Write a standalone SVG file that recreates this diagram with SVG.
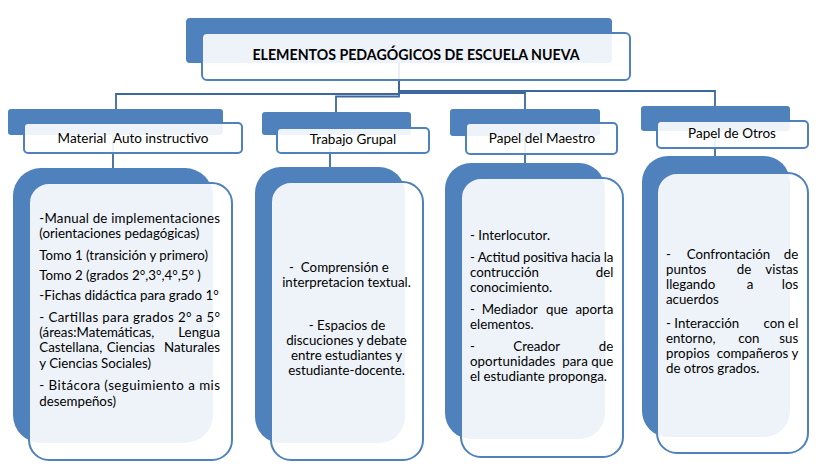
<svg xmlns="http://www.w3.org/2000/svg" width="824" height="471" viewBox="0 0 824 471">
<style>
.back{fill:#4F81BD}
.front{fill:#FFFFFF;fill-opacity:0.9;stroke:#4F81BD;stroke-width:2}
.conn{fill:none;stroke:#3C689E;stroke-width:1.8}
text{font-family:Lato,"Liberation Sans",sans-serif;fill:#000;white-space:pre}
.title{font-size:14.2px;font-weight:bold}
.hd{font-size:13.5px}
.t{font-size:13.3px}
.e{text-anchor:end}
.m{text-anchor:middle}
</style>
<rect width="824" height="471" fill="#FFFFFF"/>
<g id="connectors">
<path class="conn" d="M399,63 V94 H116 V109"/>
<path class="conn" d="M399,63 V96.5 H336 V112"/>
<path class="conn" d="M399,63 V93 H525 V109"/>
<path class="conn" d="M399,63 V91 H715 V106"/>
<path class="conn" d="M113,135 V168"/>
<path class="conn" d="M330,135 V167"/>
<path class="conn" d="M525,136 V163"/>
<path class="conn" d="M715,131 V156"/>
</g>
<g id="title">
<rect class="back" x="186" y="18" width="426" height="45" rx="4"/>
<rect class="front" x="202" y="33" width="428" height="47" rx="5"/>
<text class="title m" x="416" y="60">ELEMENTOS PEDAGÓGICOS DE ESCUELA NUEVA</text>
</g>
<g id="h1">
<rect class="back" x="8" y="109" width="215" height="26" rx="3"/>
<rect class="front" x="24" y="123" width="218" height="30" rx="4"/>
<text class="hd m" x="133" y="143">Material  Auto instructivo</text>
</g>
<g id="h2">
<rect class="back" x="262" y="112" width="149" height="23" rx="3"/>
<rect class="front" x="277" y="128" width="152" height="25" rx="4"/>
<text class="hd m" x="353" y="144">Trabajo Grupal</text>
</g>
<g id="h3">
<rect class="back" x="450" y="109" width="150" height="27" rx="3"/>
<rect class="front" x="466" y="123" width="151" height="31" rx="4"/>
<text class="hd m" x="542" y="143">Papel del Maestro</text>
</g>
<g id="h4">
<rect class="back" x="641" y="106" width="149" height="25" rx="3"/>
<rect class="front" x="657" y="121" width="151" height="27" rx="4"/>
<text class="hd m" x="732" y="138">Papel de Otros</text>
</g>
<g id="c1">
<rect class="back" x="13" y="168" width="200" height="275" rx="28"/>
<rect class="front" x="29" y="183" width="203" height="277" rx="20"/>
<text class="t" x="39.3" y="223" textLength="180.7">-Manual de implementaciones</text>
<text class="t" x="39.3" y="238">(orientaciones pedagógicas)</text>
<text class="t" x="39.3" y="260">Tomo 1 (transición y primero)</text>
<text class="t" x="39.3" y="280">Tomo 2 (grados 2°,3°,4°,5° )</text>
<text class="t" x="39.3" y="300">-Fichas didáctica para grado 1°</text>
<text class="t" x="39.3" y="321.7" textLength="180.7">- Cartillas para grados 2° a 5°</text>
<text class="t" x="39.3" y="336.7">(áreas:Matemáticas,</text><text class="t e" x="220" y="336.7">Lengua</text>
<text class="t" x="39.3" y="352">Castellana,</text><text class="t" x="106.7" y="352">Ciencias</text><text class="t e" x="220" y="352">Naturales</text>
<text class="t" x="39.3" y="367.5">y Ciencias Sociales)</text>
<text class="t" x="39.3" y="390" textLength="180.7">- Bitácora (seguimiento a mis</text>
<text class="t" x="39.3" y="405.5">desempeños)</text>
</g>
<g id="c2">
<rect class="back" x="255" y="167" width="150" height="276" rx="26"/>
<rect class="front" x="271" y="182" width="152" height="278" rx="20"/>
<text class="t m" x="339" y="271.5">-  Comprensión e</text>
<text class="t m" x="346.5" y="286.5">interpretacion textual.</text>
<text class="t m" x="347" y="330">- Espacios de</text>
<text class="t m" x="346.5" y="345">discuciones y debate</text>
<text class="t m" x="346.5" y="360">entre estudiantes y</text>
<text class="t m" x="346.5" y="375">estudiante-docente.</text>
</g>
<g id="c3">
<rect class="back" x="445" y="163" width="160" height="276" rx="26"/>
<rect class="front" x="461" y="178" width="162" height="279" rx="20"/>
<text class="t" x="470" y="240">- Interlocutor.</text>
<text class="t" x="470" y="261.5" textLength="143.3">- Actitud positiva hacia la</text>
<text class="t" x="470" y="276.5">contrucción</text><text class="t e" x="613.3" y="276.5">del</text>
<text class="t" x="470" y="291.5">conocimiento.</text>
<text class="t" x="470" y="314">-</text><text class="t" x="481.7" y="314">Mediador</text><text class="t" x="546" y="314">que</text><text class="t e" x="613.3" y="314">aporta</text>
<text class="t" x="470" y="329">elementos.</text>
<text class="t" x="470" y="351">-</text><text class="t" x="513.3" y="351">Creador</text><text class="t e" x="613.3" y="351">de</text>
<text class="t" x="470" y="366" textLength="143.3">oportunidades  para que</text>
<text class="t" x="470" y="381">el estudiante proponga.</text>
</g>
<g id="c4">
<rect class="back" x="642" y="156" width="148" height="281" rx="26"/>
<rect class="front" x="657" y="173" width="151" height="280" rx="20"/>
<text class="t" x="666" y="259.3">-</text><text class="t" x="686.7" y="259.3">Confrontación</text><text class="t e" x="798.3" y="259.3">de</text>
<text class="t" x="666" y="274.3">puntos</text><text class="t" x="736.7" y="274.3">de</text><text class="t e" x="798.3" y="274.3">vistas</text>
<text class="t" x="666" y="289.3">llegando</text><text class="t" x="746.7" y="289.3">a</text><text class="t e" x="798.3" y="289.3">los</text>
<text class="t" x="666" y="304.3">acuerdos</text>
<text class="t" x="666" y="327.7">- Interacción</text><text class="t e" x="798.3" y="327.7">con el</text>
<text class="t" x="666" y="342.7">entorno,</text><text class="t" x="738.3" y="342.7">con</text><text class="t e" x="798.3" y="342.7">sus</text>
<text class="t" x="666" y="357.7" textLength="132.3">propios  compañeros y</text>
<text class="t" x="666" y="372.7">de otros grados.</text>
</g>
</svg>
